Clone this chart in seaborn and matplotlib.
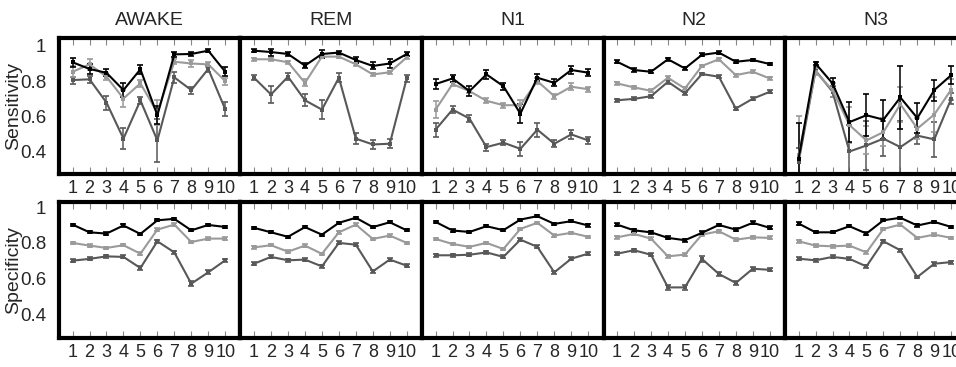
import numpy as np
import pandas as pd
import seaborn as sns
import matplotlib.pyplot as plt

stages = ['AWAKE', 'REM', 'N1', 'N2', 'N3']
metrics = ['Sensitivity', 'Specificity']
series = ['black', 'light', 'dark']
x = list(range(1, 11))

# Sensitivity means, rows = black, light grey, dark grey
awake_sens = [[0.907, 0.869, 0.847, 0.749, 0.867, 0.606, 0.952, 0.954, 0.973, 0.853],
              [0.853, 0.895, 0.825, 0.701, 0.787, 0.620, 0.910, 0.900, 0.895, 0.800],
              [0.806, 0.810, 0.678, 0.473, 0.690, 0.463, 0.821, 0.749, 0.869, 0.640]]
rem_sens = [[0.973, 0.965, 0.954, 0.888, 0.954, 0.962, 0.920, 0.886, 0.900, 0.954],
            [0.924, 0.924, 0.907, 0.790, 0.939, 0.939, 0.895, 0.838, 0.850, 0.935],
            [0.819, 0.724, 0.825, 0.691, 0.638, 0.819, 0.473, 0.440, 0.444, 0.815]]
n1_sens = [[0.783, 0.815, 0.743, 0.838, 0.771, 0.615, 0.819, 0.790, 0.863, 0.848],
           [0.638, 0.783, 0.743, 0.688, 0.663, 0.663, 0.800, 0.714, 0.768, 0.754],
           [0.524, 0.638, 0.587, 0.425, 0.450, 0.415, 0.524, 0.444, 0.497, 0.463]]
n2_sens = [[0.910, 0.863, 0.853, 0.924, 0.872, 0.949, 0.962, 0.910, 0.920, 0.897],
           [0.787, 0.764, 0.745, 0.819, 0.758, 0.886, 0.924, 0.834, 0.853, 0.815],
           [0.691, 0.699, 0.714, 0.796, 0.730, 0.840, 0.825, 0.644, 0.700, 0.739]]
n3_sens = [[0.360, 0.900, 0.787, 0.567, 0.606, 0.581, 0.707, 0.590, 0.749, 0.834],
           [0.380, 0.853, 0.749, 0.550, 0.463, 0.510, 0.669, 0.530, 0.610, 0.752],
           [0.340, 0.860, 0.740, 0.400, 0.434, 0.473, 0.425, 0.490, 0.469, 0.700]]

# Sensitivity error bars
awake_sens_err = [[0.025, 0.03, 0.02, 0.04, 0.025, 0.05, 0.015, 0.01, 0.01, 0.025],
                  [0.03, 0.03, 0.02, 0.05, 0.02, 0.07, 0.015, 0.02, 0.015, 0.02],
                  [0.02, 0.02, 0.04, 0.06, 0.02, 0.12, 0.03, 0.02, 0.015, 0.04]]
rem_sens_err = [[0.01, 0.02, 0.01, 0.015, 0.02, 0.01, 0.015, 0.02, 0.025, 0.01],
                [0.01, 0.01, 0.01, 0.02, 0.01, 0.01, 0.01, 0.01, 0.01, 0.01],
                [0.015, 0.05, 0.02, 0.035, 0.055, 0.025, 0.03, 0.025, 0.025, 0.02]]
n1_sens_err = [[0.03, 0.02, 0.03, 0.025, 0.02, 0.055, 0.02, 0.02, 0.02, 0.02],
               [0.05, 0.01, 0.01, 0.015, 0.015, 0.03, 0.015, 0.015, 0.02, 0.015],
               [0.04, 0.02, 0.02, 0.02, 0.015, 0.04, 0.04, 0.02, 0.025, 0.02]]
n2_sens_err = [[0.008, 0.01, 0.008, 0.008, 0.008, 0.008, 0.008, 0.008, 0.008, 0.008],
               [0.008, 0.008, 0.008, 0.01, 0.01, 0.008, 0.008, 0.008, 0.008, 0.008],
               [0.01, 0.008, 0.008, 0.01, 0.01, 0.008, 0.008, 0.008, 0.01, 0.008]]
n3_sens_err = [[0.20, 0.01, 0.03, 0.115, 0.12, 0.11, 0.18, 0.085, 0.06, 0.05],
               [0.22, 0.02, 0.04, 0.10, 0.08, 0.08, 0.10, 0.06, 0.10, 0.06],
               [0.08, 0.02, 0.03, 0.15, 0.14, 0.10, 0.15, 0.05, 0.10, 0.03]]

# Specificity means
awake_spec = [[0.902, 0.859, 0.852, 0.897, 0.850, 0.926, 0.934, 0.870, 0.900, 0.889],
              [0.800, 0.785, 0.772, 0.787, 0.740, 0.874, 0.902, 0.805, 0.824, 0.824],
              [0.701, 0.711, 0.725, 0.722, 0.660, 0.809, 0.747, 0.573, 0.636, 0.703]]
rem_spec = [[0.884, 0.859, 0.834, 0.888, 0.846, 0.912, 0.940, 0.888, 0.915, 0.870],
            [0.775, 0.787, 0.751, 0.785, 0.739, 0.859, 0.902, 0.822, 0.841, 0.800],
            [0.684, 0.722, 0.703, 0.707, 0.669, 0.800, 0.790, 0.641, 0.707, 0.673]]
n1_spec = [[0.917, 0.869, 0.861, 0.893, 0.871, 0.930, 0.949, 0.906, 0.921, 0.897],
           [0.822, 0.794, 0.778, 0.800, 0.766, 0.878, 0.912, 0.841, 0.856, 0.834],
           [0.731, 0.731, 0.734, 0.747, 0.722, 0.818, 0.778, 0.636, 0.712, 0.740]]
n2_spec = [[0.902, 0.870, 0.859, 0.828, 0.815, 0.856, 0.900, 0.874, 0.912, 0.884],
           [0.831, 0.850, 0.824, 0.725, 0.735, 0.846, 0.865, 0.818, 0.831, 0.828],
           [0.740, 0.759, 0.734, 0.552, 0.552, 0.711, 0.627, 0.577, 0.656, 0.650]]
n3_spec = [[0.908, 0.859, 0.859, 0.893, 0.852, 0.926, 0.940, 0.897, 0.917, 0.889],
           [0.809, 0.785, 0.781, 0.785, 0.747, 0.878, 0.902, 0.828, 0.846, 0.828],
           [0.712, 0.703, 0.722, 0.711, 0.669, 0.809, 0.759, 0.610, 0.684, 0.693]]

# Specificity error bars (all small)
awake_spec_err = [[0.006] * 10, [0.007] * 10,
                  [0.008, 0.008, 0.008, 0.008, 0.01, 0.008, 0.008, 0.012, 0.012, 0.008]]
rem_spec_err = [[0.006] * 10, [0.007] * 10, [0.008] * 10]
n1_spec_err = [[0.006] * 10, [0.007] * 10, [0.008] * 10]
n2_spec_err = [[0.008] * 10, [0.008] * 10,
               [0.008, 0.008, 0.008, 0.012, 0.012, 0.015, 0.01, 0.01, 0.01, 0.008]]
n3_spec_err = [[0.006] * 10, [0.007] * 10,
               [0.008, 0.008, 0.008, 0.008, 0.008, 0.008, 0.008, 0.008, 0.012, 0.008]]

panels = {
    ('AWAKE', 'Sensitivity'): (awake_sens, awake_sens_err),
    ('REM', 'Sensitivity'): (rem_sens, rem_sens_err),
    ('N1', 'Sensitivity'): (n1_sens, n1_sens_err),
    ('N2', 'Sensitivity'): (n2_sens, n2_sens_err),
    ('N3', 'Sensitivity'): (n3_sens, n3_sens_err),
    ('AWAKE', 'Specificity'): (awake_spec, awake_spec_err),
    ('REM', 'Specificity'): (rem_spec, rem_spec_err),
    ('N1', 'Specificity'): (n1_spec, n1_spec_err),
    ('N2', 'Specificity'): (n2_spec, n2_spec_err),
    ('N3', 'Specificity'): (n3_spec, n3_spec_err),
}

rows = []
for (stage, metric), (means, errs) in panels.items():
    for s, m, e in zip(series, means, errs):
        for xi, mi, ei in zip(x, m, e):
            rows.append({'stage': stage, 'metric': metric, 'series': s,
                         'x': xi, 'value': mi, 'err': ei})
df = pd.DataFrame(rows)

colors = {'black': '#000000', 'light': '#9a9a9a', 'dark': '#585858'}
draw_order = ['dark', 'light', 'black']

sns.set_style('white')
plt.rcParams['font.family'] = ['Liberation Sans', 'DejaVu Sans']

fig, axes = plt.subplots(2, 5, figsize=(9.56, 3.67), dpi=100)
fig.subplots_adjust(left=0.0617, right=1.011, top=0.8965, bottom=0.079,
                    wspace=0, hspace=0.2)

for r, metric in enumerate(metrics):
    for c, stage in enumerate(stages):
        ax = axes[r, c]
        sub = df[(df['stage'] == stage) & (df['metric'] == metric)]
        for s in draw_order:
            d = sub[sub['series'] == s]
            ax.errorbar(d['x'], d['value'], yerr=d['err'], fmt='none',
                        ecolor=colors[s], elinewidth=1.1, capsize=2, capthick=1.2)
        sns.lineplot(data=sub, x='x', y='value', hue='series', hue_order=draw_order,
                     palette=colors, marker='s', markersize=2.5, markeredgewidth=0,
                     linewidth=1.5, errorbar=None, legend=False, ax=ax)

        ax.set_xlim(0.2, 10.9)
        if r == 0:
            ax.set_ylim(0.27, 1.045)
            ax.set_title(stage, fontsize=14, pad=9)
        else:
            ax.set_ylim(0.27, 1.03)
        ax.set_xticks(x)
        ax.set_xticklabels([str(v) for v in x])
        ax.set_yticks([0.4, 0.6, 0.8, 1.0])
        ax.set_yticklabels(['0.4', '0.6', '0.8', '1'])
        ax.tick_params(axis='x', direction='in', top=True, bottom=True, length=5,
                       width=0.8, color='#888888', labelsize=13, pad=4)
        ax.tick_params(axis='y', length=0, labelsize=13.5, pad=9,
                       labelleft=(c == 0))
        ax.set_xlabel('')
        ax.set_ylabel(metric if c == 0 else '', fontsize=14)
        ax.yaxis.set_label_coords(-0.205, 0.5)
        for sp in ax.spines.values():
            sp.set_linewidth(3)
            sp.set_color('black')

fig.savefig('out.png', dpi=100)
